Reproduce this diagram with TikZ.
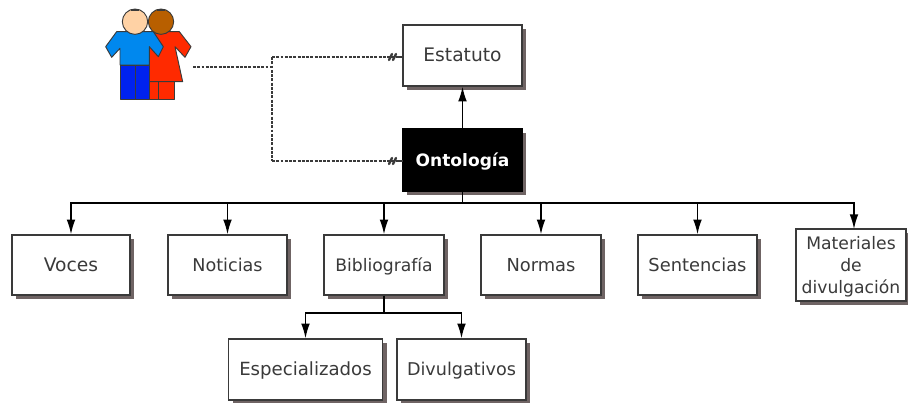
\documentclass[tikz,border=0pt]{standalone}
\usepackage{fontspec}
\setmainfont{DejaVu Sans}
\usetikzlibrary{arrows.meta,shadows}
\definecolor{shade}{HTML}{6F6464}
\definecolor{ink}{HTML}{3A3A3A}
\newcommand{\fsz}[1]{\fontsize{#1}{16.5pt}\selectfont}
\tikzset{
  box/.style={draw=ink,line width=1.1pt,fill=white,inner sep=0pt,align=center,text=ink,
    font=\fsz{13.4pt},text height=12.2pt,text depth=2.5pt,
    drop shadow={shadow xshift=3pt,shadow yshift=-3pt,fill=shade,opacity=1}},
  tall/.style={box,text height=,text depth=,font=\fsz{12.9pt}},
  dark/.style={box,fill=black,draw=black,text=white,font=\fsz{12.8pt}\bfseries},
  arr/.style={draw=black,line width=1.05pt,-{Latex[length=11pt,width=6.5pt]}},
  lin/.style={draw=black,line width=1.05pt},
  dsh/.style={draw=ink,line width=.9pt,dash pattern=on 2.2pt off 1pt},
  tail/.style={draw=ink,line width=1.7pt,line cap=round},
  fig/.style={draw=ink,line width=.7pt,line join=round}
}
\begin{document}
\begin{tikzpicture}[x=0.75pt,y=-0.75pt]
\useasboundingbox (0,0) rectangle (908,403);
\node[box,font=\fsz{14pt},minimum width=89.25pt,minimum height=45.75pt] (est) at (462.5,55.5) {Estatuto};
\node[dark,minimum width=89.25pt,minimum height=46.5pt] (ont) at (462.5,160) {Ontología};
\node[box,font=\fsz{14pt},minimum width=88.5pt,minimum height=45pt] (voc) at (71,265) {Voces};
\node[box,font=\fsz{13.2pt},minimum width=89.25pt,minimum height=45pt] (not) at (227.5,265) {Noticias};
\node[box,font=\fsz{12.9pt},minimum width=90pt,minimum height=45pt] (bib) at (384,265) {Bibliografía};
\node[box,minimum width=90pt,minimum height=45pt] (nor) at (541,265) {Normas};
\node[box,minimum width=89.25pt,minimum height=45pt] (sen) at (697.5,265) {Sentencias};
\node[tall,minimum width=82.5pt,minimum height=54pt] (mat) at (851,265) {\rule{0pt}{12.5pt}Materiales\\de\\divulgación};
\node[box,font=\fsz{13.6pt},minimum width=115.5pt,minimum height=45.75pt] (esp) at (305.5,369.5) {Especializados};
\node[box,font=\fsz{13.2pt},minimum width=96.75pt,minimum height=45.75pt] (div) at (461.5,369.5) {Divulgativos};

\draw[arr] (ont.north) -- (est.south);
\coordinate (bus) at (462.5,203);
\draw[lin] (ont.south) -- (bus);
\foreach \t in {voc,not,bib,nor,sen} \draw[arr] (bus) -| (\t.north);
\draw[arr] (bus) -| (854,229);
\coordinate (sub) at (384,313);
\draw[lin] (bib.south) -- (sub);
\draw[arr] (sub) -| (esp.north);
\draw[arr] (sub) -| (div.north);

\coordinate (who) at (193,67);
\coordinate (turn) at (272,67);
\coordinate (a) at (272,57);
\coordinate (b) at (272,161);
\draw[dsh] (who) -- (turn);
\draw[dsh] (a) -- (b);
\draw[dsh] (a) -- (est.west |- a);
\draw[dsh] (b) -- (ont.west |- b);
\foreach \yy in {57,161}{
  \draw[tail] (389,\yy+3) -- (392,\yy-3);
  \draw[tail] (393,\yy+3) -- (396,\yy-3);
  \draw[line width=1pt,draw=ink] (396,\yy) -- (403,\yy);
}

\begin{scope}[shift={(90,0)},x=0.25pt,y=-0.25pt]
  % woman
  \filldraw[fig,fill={rgb,255:red,255;green,42;blue,0}] (178,245) -- (253,245) -- (253,297) -- (178,297) -- cycle;
  \draw[fig] (205,245) -- (205,297);
  \filldraw[fig,fill={rgb,255:red,255;green,42;blue,0}] (190,95) -- (268,95) -- (303,140) -- (285,172) -- (255,140) -- (278,245) -- (178,245) -- (178,140) -- cycle;
  \filldraw[fig,fill={rgb,255:red,184;green,95;blue,0}] (213,65) circle (38);
  \draw[line width=.8pt,draw=ink] (202,30) -- (224,30);
  % man
  \filldraw[fig,fill={rgb,255:red,0;green,34;blue,238}] (90,195) -- (178,195) -- (178,297) -- (90,297) -- cycle;
  \draw[fig] (135,195) -- (135,297);
  \filldraw[fig,fill={rgb,255:red,0;green,136;blue,238}] (80,95) -- (190,95) -- (220,140) -- (205,170) -- (178,140) -- (178,195) -- (90,195) -- (90,145) -- (65,172) -- (47,140) -- cycle;
  \filldraw[fig,fill={rgb,255:red,255;green,210;blue,165}] (135,65) circle (38);
  \draw[line width=.8pt,draw=ink] (124,30) -- (146,30);
\end{scope}
\end{tikzpicture}
\end{document}
